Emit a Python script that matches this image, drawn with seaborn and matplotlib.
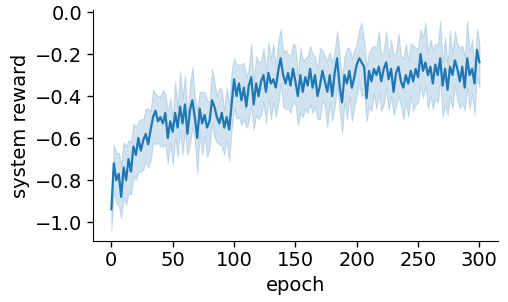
import matplotlib

matplotlib.use("Agg")
import matplotlib.pyplot as plt  # noqa: E402
import seaborn as sns  # noqa: E402

import numpy as np
import pandas as pd

# values, every 2nd epoch
epochs = list(range(0, 301, 2))

reward_mean = [
    -0.94, -0.72, -0.80, -0.77, -0.88, -0.74, -0.80, -0.70, -0.76, -0.64,
    -0.68, -0.60, -0.66, -0.61, -0.58, -0.63, -0.56, -0.50, -0.47, -0.52,
    -0.50, -0.53, -0.48, -0.60, -0.52, -0.57, -0.48, -0.55, -0.45, -0.53,
    -0.44, -0.58, -0.47, -0.42, -0.50, -0.60, -0.46, -0.53, -0.49, -0.55,
    -0.52, -0.42, -0.45, -0.50, -0.53, -0.48, -0.55, -0.50, -0.56, -0.44,
    -0.32, -0.40, -0.34, -0.42, -0.36, -0.45, -0.35, -0.31, -0.44, -0.34,
    -0.40, -0.33, -0.30, -0.38, -0.29, -0.34, -0.32, -0.36, -0.28, -0.22,
    -0.30, -0.34, -0.29, -0.35, -0.27, -0.33, -0.40, -0.30, -0.38, -0.31,
    -0.35, -0.27, -0.36, -0.30, -0.40, -0.35, -0.28, -0.33, -0.38, -0.30,
    -0.40, -0.29, -0.22, -0.35, -0.43, -0.30, -0.34, -0.28, -0.36, -0.31,
    -0.25, -0.22, -0.24, -0.26, -0.41, -0.28, -0.33, -0.27, -0.30, -0.26,
    -0.33, -0.27, -0.24, -0.32, -0.27, -0.38, -0.29, -0.26, -0.33, -0.36,
    -0.30, -0.34, -0.28, -0.33, -0.27, -0.31, -0.20, -0.28, -0.24, -0.30,
    -0.26, -0.34, -0.25, -0.30, -0.22, -0.35, -0.27, -0.37, -0.26, -0.30,
    -0.23, -0.27, -0.33, -0.26, -0.36, -0.22, -0.30, -0.27, -0.34, -0.18,
    -0.24,
]

# how far the shaded band reaches above / below the mean line
band_up = [
    0.06, 0.09, 0.13, 0.10, 0.15, 0.12, 0.16, 0.09, 0.14, 0.11,
    0.13, 0.08, 0.15, 0.10, 0.12, 0.17, 0.09, 0.13, 0.08, 0.12,
    0.10, 0.16, 0.09, 0.13, 0.11, 0.07, 0.15, 0.10, 0.17, 0.12,
    0.14, 0.09, 0.12, 0.16, 0.10, 0.13, 0.08, 0.15, 0.11, 0.13,
    0.09, 0.15, 0.12, 0.10, 0.17, 0.11, 0.08, 0.14, 0.12, 0.16,
    0.10, 0.15, 0.09, 0.17, 0.12, 0.14, 0.08, 0.16, 0.11, 0.13,
    0.16, 0.10, 0.13, 0.09, 0.15, 0.12, 0.17, 0.10, 0.14, 0.14,
    0.11, 0.16, 0.09, 0.14, 0.12, 0.17, 0.10, 0.13, 0.15, 0.09,
    0.14, 0.11, 0.16, 0.09, 0.13, 0.18, 0.10, 0.12, 0.15, 0.11,
    0.16, 0.10, 0.13, 0.15, 0.12, 0.09, 0.17, 0.11, 0.14, 0.13,
    0.10, 0.14, 0.19, 0.12, 0.15, 0.09, 0.16, 0.11, 0.13, 0.17,
    0.12, 0.09, 0.15, 0.11, 0.14, 0.17, 0.10, 0.16, 0.12, 0.14,
    0.15, 0.11, 0.13, 0.17, 0.10, 0.14, 0.12, 0.16, 0.19, 0.11,
    0.13, 0.16, 0.10, 0.14, 0.18, 0.11, 0.15, 0.12, 0.17, 0.10,
    0.14, 0.12, 0.16, 0.10, 0.15, 0.18, 0.11, 0.14, 0.09, 0.10,
    0.09,
]

band_down = [
    0.10, 0.13, 0.11, 0.15, 0.10, 0.14, 0.12, 0.16, 0.11, 0.14,
    0.12, 0.16, 0.10, 0.14, 0.13, 0.11, 0.15, 0.12, 0.16, 0.10,
    0.14, 0.11, 0.15, 0.12, 0.10, 0.16, 0.12, 0.14, 0.11, 0.15,
    0.12, 0.10, 0.16, 0.13, 0.11, 0.17, 0.12, 0.15, 0.10, 0.14,
    0.13, 0.11, 0.15, 0.12, 0.10, 0.16, 0.13, 0.11, 0.15, 0.12,
    0.14, 0.11, 0.16, 0.12, 0.15, 0.10, 0.17, 0.13, 0.12, 0.15,
    0.11, 0.16, 0.13, 0.15, 0.12, 0.17, 0.11, 0.14, 0.16, 0.12,
    0.15, 0.12, 0.17, 0.13, 0.16, 0.11, 0.14, 0.18, 0.12, 0.15,
    0.13, 0.17, 0.12, 0.15, 0.11, 0.16, 0.14, 0.12, 0.17, 0.13,
    0.12, 0.16, 0.14, 0.11, 0.15, 0.13, 0.17, 0.12, 0.16, 0.14,
    0.15, 0.12, 0.16, 0.13, 0.11, 0.17, 0.14, 0.12, 0.16, 0.13,
    0.14, 0.17, 0.12, 0.15, 0.13, 0.11, 0.16, 0.14, 0.12, 0.15,
    0.13, 0.16, 0.12, 0.14, 0.17, 0.12, 0.15, 0.13, 0.11, 0.16,
    0.14, 0.12, 0.16, 0.13, 0.11, 0.15, 0.17, 0.12, 0.14, 0.16,
    0.12, 0.15, 0.13, 0.17, 0.11, 0.14, 0.16, 0.12, 0.15, 0.13,
    0.12,
]

df = pd.DataFrame({"epoch": epochs, "reward": reward_mean})
df["hi"] = df["reward"] + np.array(band_up)
df["lo"] = df["reward"] - np.array(band_down)

sns.set_style("white")
plt.rcParams["font.family"] = ["DejaVu Sans"]
plt.rcParams["font.size"] = 14
for key in ["text.color", "axes.labelcolor", "xtick.color", "ytick.color", "axes.edgecolor"]:
    plt.rcParams[key] = "black"

fig, ax = plt.subplots(figsize=(5.08, 3.02), dpi=100)
fig.subplots_adjust(left=0.183, right=0.98, top=0.967, bottom=0.202)

color = sns.color_palette()[0]
sns.lineplot(data=df, x="epoch", y="reward", color=color, linewidth=1.6, ax=ax)
ax.fill_between(df["epoch"], df["lo"], df["hi"], color=color, alpha=0.2, linewidth=0.8)

ax.set_xlabel("epoch", fontsize=14)
ax.set_ylabel("system reward", fontsize=14)
ax.tick_params(axis="both", labelsize=14, left=True, bottom=True, length=4, width=1)
ax.set_xticks([0, 50, 100, 150, 200, 250, 300])
ax.set_yticks([-1.0, -0.8, -0.6, -0.4, -0.2, 0.0])
sns.despine(ax=ax)

fig.savefig("out.png", dpi=100)
